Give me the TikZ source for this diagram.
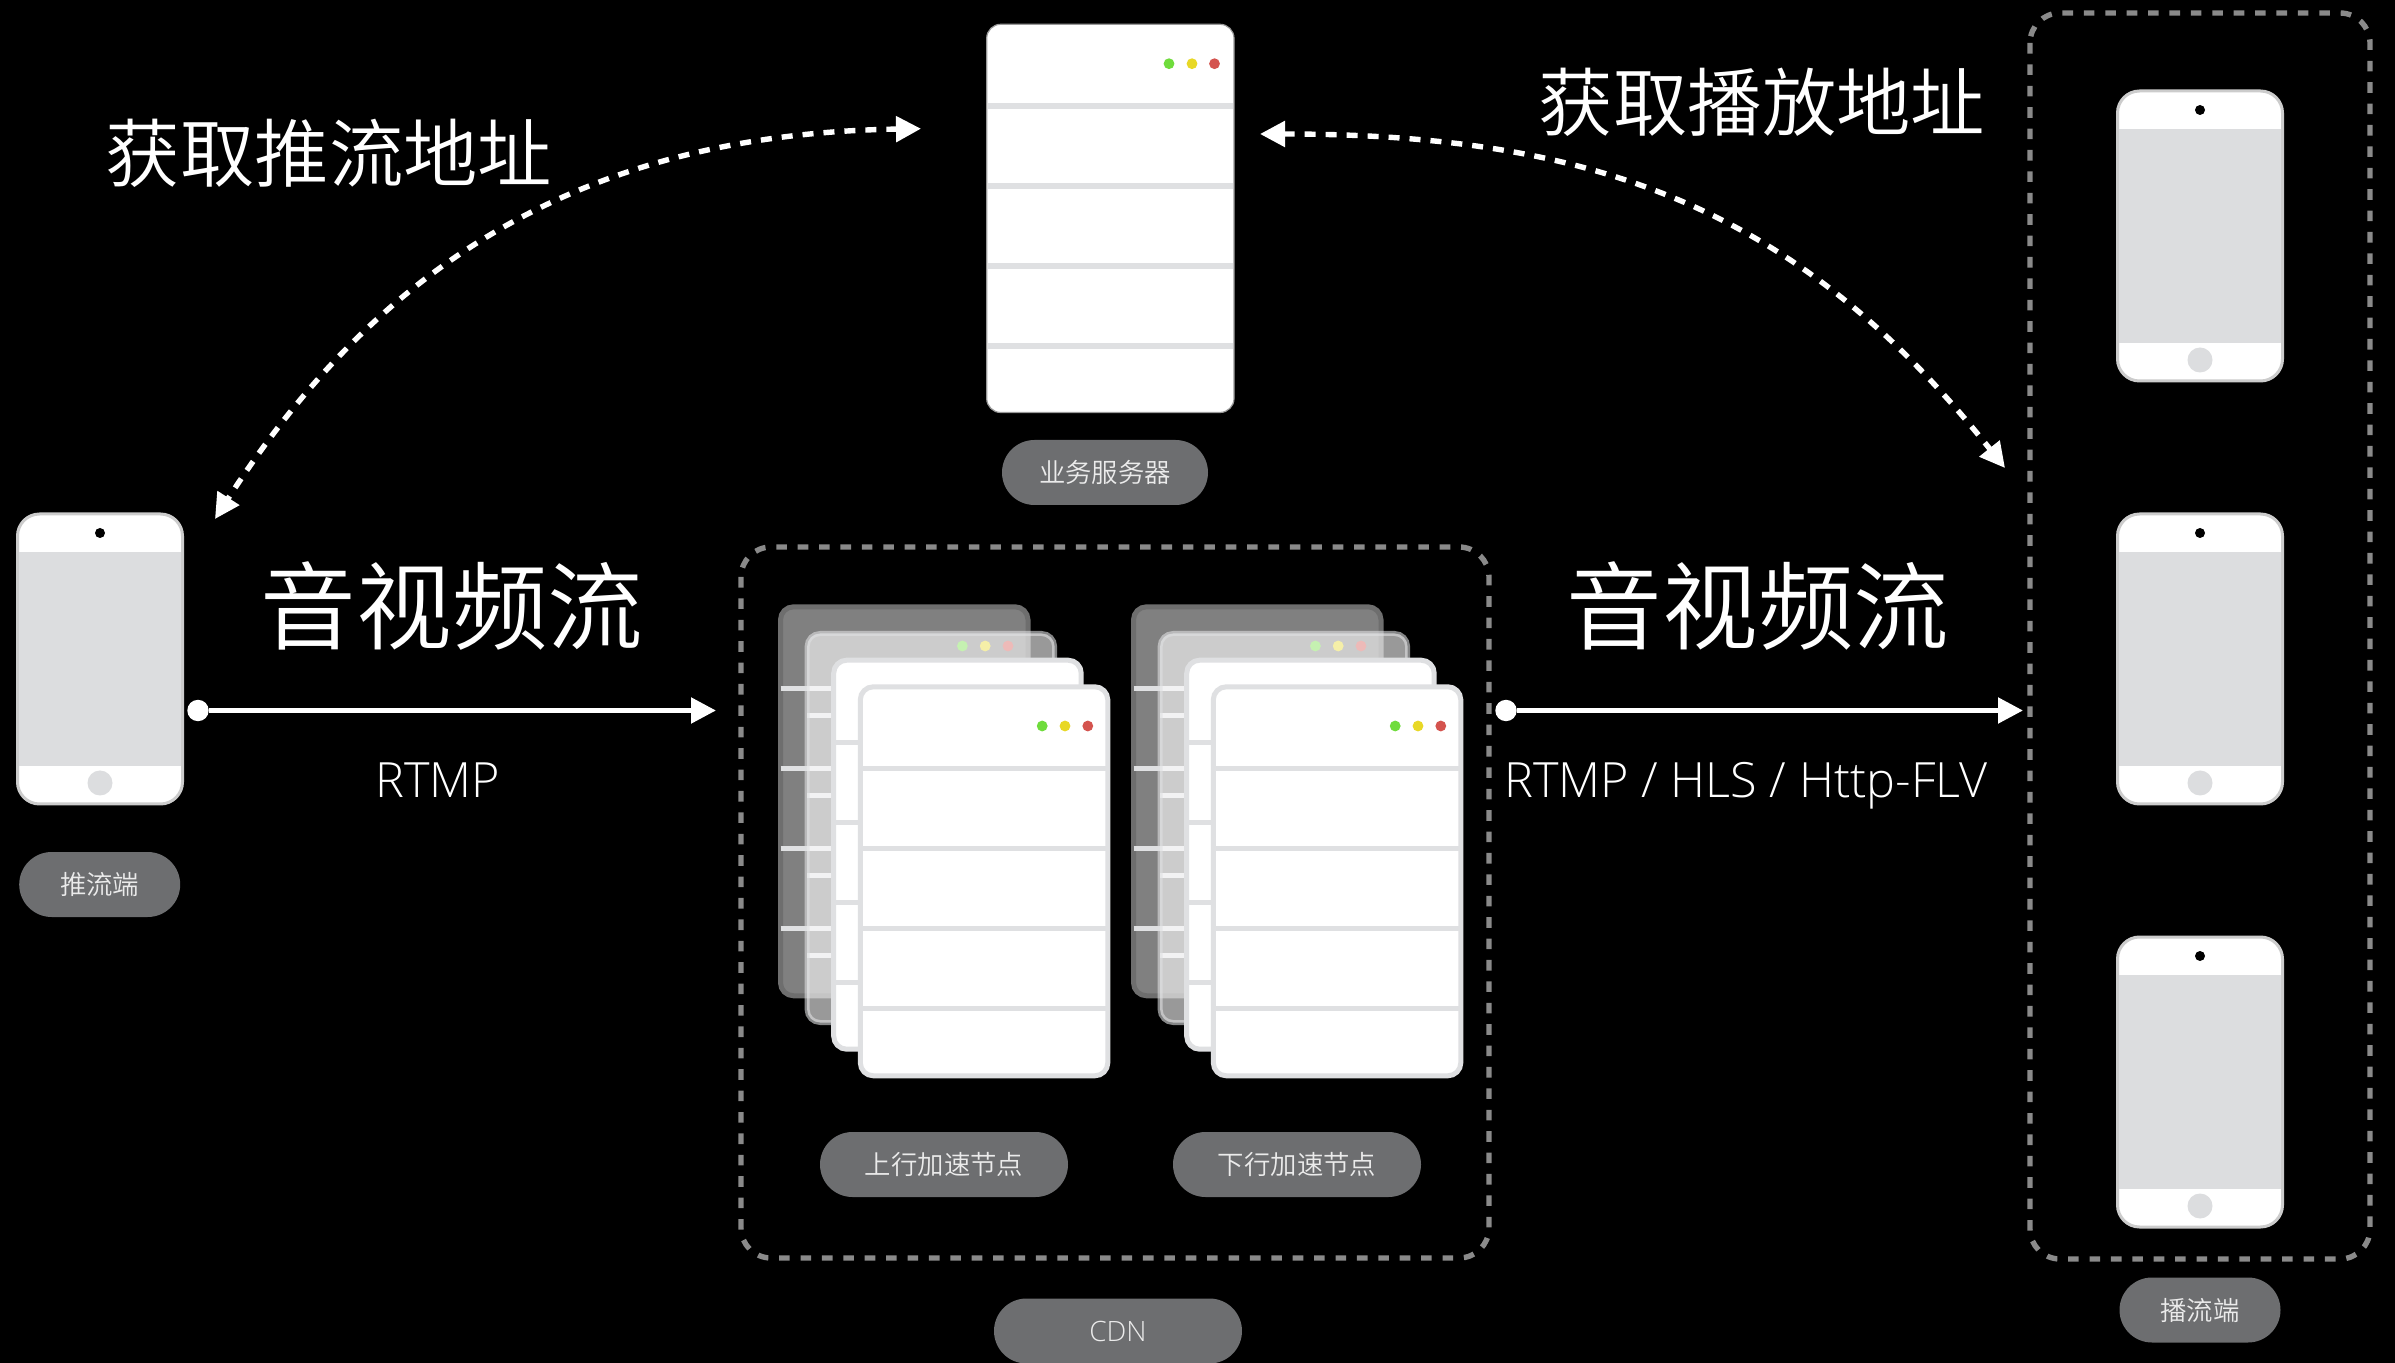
\documentclass[tikz,border=0pt]{standalone}
\usepackage{fontspec}
\usetikzlibrary{arrows.meta}
\setmainfont{Open Sans Light}
\newfontfamily\cjk{Noto Sans CJK SC DemiLight}
\definecolor{pillgray}{HTML}{6D6E70}
\definecolor{linegray}{HTML}{DFE0E2}
\definecolor{screengray}{HTML}{DCDDDF}
\definecolor{dashgray}{HTML}{8A8A8A}
\definecolor{dgreen}{HTML}{6FDC3C}
\definecolor{dyellow}{HTML}{E8D826}
\definecolor{dred}{HTML}{D4534E}
\tikzset{
  pill/.style={fill=pillgray,rounded corners=16.25pt,inner sep=0pt,text=white!92!black,font=\cjk\fontsize{13.2pt}{16pt}\selectfont,minimum height=32.5pt},
  dashbox/.style={draw=dashgray,line width=2.7pt,dash pattern=on 5.3pt off 5.4pt,rounded corners=15pt},
  flow/.style={draw=white,line width=2.6pt,-{Triangle[length=12.5pt,width=12.5pt]}},
  fetch/.style={draw=white,line width=2.7pt,dash pattern=on 5.5pt off 5pt,{Triangle[length=12.5pt,width=12.5pt]}-{Triangle[length=12.5pt,width=12.5pt]}},
  startdot/.style={circle,fill=white,minimum size=10.7pt,inner sep=0pt},
  bigcjk/.style={text=white,font=\cjk\fontsize{47.8pt}{52pt}\selectfont,inner sep=0pt},
  midcjk/.style={text=white,font=\cjk\fontsize{37.2pt}{42pt}\selectfont,inner sep=0pt},
  proto/.style={text=white,font=\fontsize{24.3pt}{30pt}\selectfont,inner sep=0pt,anchor=base}
}
\newcommand{\rackdots}[2]{%
  \fill[dgreen] (#1+184.4,#2+41.7) circle (5.4);
  \fill[dyellow] (#1+207.2,#2+41.7) circle (5.4);
  \fill[dred] (#1+230,#2+41.7) circle (5.4);
}
\newcommand{\racklines}[3]{%
  \foreach \k in {84.5,164.5,244.5,324.5}{
    \draw[#3,line width=2.6pt] (#1+2.5,#2+\k) -- (#1+250,#2+\k);
  }
}
\newcommand{\rackbox}[2]{(#1+2.5,#2+2.5) rectangle (#1+250,#2+391.5)}
\newcommand{\rackstack}[2]{%
  % layer 1
  \filldraw[fill=black!50,draw=black!57,line width=2.5pt,rounded corners=6.5pt] \rackbox{#1}{#2};
  \racklines{#1}{#2}{linegray}
  \rackdots{#1}{#2}
  % layer 2
  \begin{scope}[shift={(26.6,26.7)}]
    \racklines{#1}{#2}{linegray}
    \filldraw[fill=white,fill opacity=.6,draw=linegray,draw opacity=.6,line width=2.5pt,rounded corners=6.5pt] \rackbox{#1}{#2};
  \end{scope}
  % layer 3
  \begin{scope}[shift={(53.2,53.4)}]
    \filldraw[fill=white,draw=linegray,line width=2.5pt,rounded corners=6.5pt] \rackbox{#1}{#2};
    \racklines{#1}{#2}{linegray}
  \end{scope}
  % layer 4
  \begin{scope}[shift={(79.8,80)}]
    \filldraw[fill=white,draw=linegray,line width=2.5pt,rounded corners=6.5pt] \rackbox{#1}{#2};
    \racklines{#1}{#2}{linegray}
    \rackdots{#1}{#2}
  \end{scope}
}
\newcommand{\phone}[2]{%
  \filldraw[fill=white,draw=black!20,line width=1.5pt,rounded corners=11pt]
    (#1+1.5,#2+1.5) rectangle (#1+166.5,#2+291.5);
  \fill[screengray] (#1+3,#2+39.5) rectangle (#1+165,#2+253.5);
  \fill[black] (#1+84,#2+20.5) circle (5);
  \fill[screengray] (#1+84,#2+270.5) circle (12.5);
}
\begin{document}
\begin{tikzpicture}[x=0.5pt,y=-0.5pt]
\path[use as bounding box,fill=black] (0,0) rectangle (2395,1363);

% dashed groups
\draw[dashbox] (741,547) rectangle (1489,1258);
\draw[dashbox] (2030,13) rectangle (2370,1259);

% business server
\filldraw[fill=white,draw=black!40,line width=.6pt,rounded corners=7pt] (986.7,24.3) rectangle (1234,412.5);
\foreach \k in {106,186,266,346}{\draw[linegray,line width=2.6pt] (988,\k) -- (1232.5,\k);}
\fill[dgreen] (1169,63.7) circle (5.4);
\fill[dyellow] (1192,63.7) circle (5.4);
\fill[dred] (1214.5,63.7) circle (5.4);

% CDN stacks
\rackstack{778}{604.3}
\rackstack{1131}{604.3}

% phones
\phone{16}{512.5}
\phone{2116}{89.5}
\phone{2116}{512.5}
\phone{2116}{935.5}

% pills
\node[pill,minimum width=80.5pt] (lblpush) at (99.7,884.5) {推流端};
\node[pill,minimum width=103pt] (lblbiz) at (1105,472.5) {业务服务器};
\node[pill,minimum width=124pt] (lblup) at (944,1164.5) {上行加速节点};
\node[pill,minimum width=124pt] (lbldown) at (1297,1164.5) {下行加速节点};
\node[pill,minimum width=124pt,font=\fontsize{14pt}{16pt}\selectfont] (lblcdn) at (1118,1331) {CDN};
\node[pill,minimum width=80.5pt] (lblplay) at (2200,1310) {播流端};

% big labels
\node[midcjk] (getpush) at (329,153) {获取推流地址};
\node[midcjk] (getplay) at (1762,102) {获取播放地址};
\node[bigcjk] (flowa) at (452,606) {音视频流};
\node[bigcjk] (flowb) at (1758,606) {音视频流};
\node[proto] (rtmpa) at (438,798) {RTMP};
\node[proto] (rtmpb) at (1746,798) {RTMP / HLS / Http-FLV};

% connectors
\node[startdot] (srca) at (198,710.5) {};
\node[startdot] (srcb) at (1506,710.5) {};
\coordinate (cdnin) at (716,710.5);
\coordinate (playin) at (2023,710.5);
\draw[flow] (srca) -- (cdnin);
\draw[flow] (srcb) -- (playin);

\coordinate (bizl) at (921,128.7);
\coordinate (pushtop) at (215,519);
\coordinate (bizr) at (1260,134);
\coordinate (playtop) at (2005,468);
\draw[fetch] (bizl) .. controls (591,134) and (382,259) .. (pushtop);
\draw[fetch] (bizr) .. controls (1600,134) and (1800,211) .. (playtop);
\end{tikzpicture}
\end{document}
